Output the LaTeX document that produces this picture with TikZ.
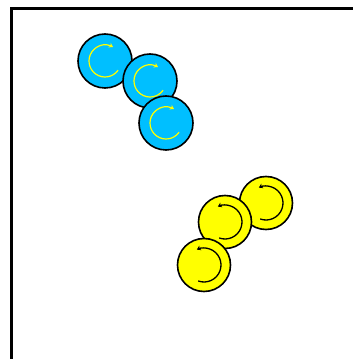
\documentclass[tikz,border=0pt]{standalone}
\usetikzlibrary{arrows.meta,calc}
\definecolor{beadblue}{HTML}{00BFFF}
\definecolor{beadyellow}{HTML}{FFFF00}
\begin{document}
\begin{tikzpicture}[x=1pt,y=1pt,
  bb/.style={draw,circle,fill=beadblue,line width=1.6pt,minimum size=54pt,inner sep=0pt},
  yb/.style={draw,circle,fill=beadyellow,line width=1.6pt,minimum size=53pt,inner sep=0pt},
  cw/.style={-{Stealth[length=4pt,width=5pt]},line width=1.2pt,beadyellow},
  ccw/.style={-{Stealth[length=4pt,width=5pt]},line width=1.3pt,black}]
\useasboundingbox(0,0)rectangle(353,359);
\draw[line width=3pt](11.5,0)--(11.5,350.5)--(353,350.5);
\node[bb](b1) at(105,298){};
\node[bb](b2) at(150,278){};
\node[bb](b3) at(166,236){};
\node[yb](y1) at(266,156){};
\node[yb](y2) at(225,137){};
\node[yb](y3) at(204,94){};
\foreach \n in {b1,b2,b3}
  \draw[cw]($(\n)+(-35:16)$) arc[start angle=-35,end angle=-300,radius=16];
\foreach \n in {y1,y2,y3}
  \draw[ccw]($(\n)+(-110:17)$) arc[start angle=-110,end angle=115,radius=17];
\end{tikzpicture}
\end{document}
